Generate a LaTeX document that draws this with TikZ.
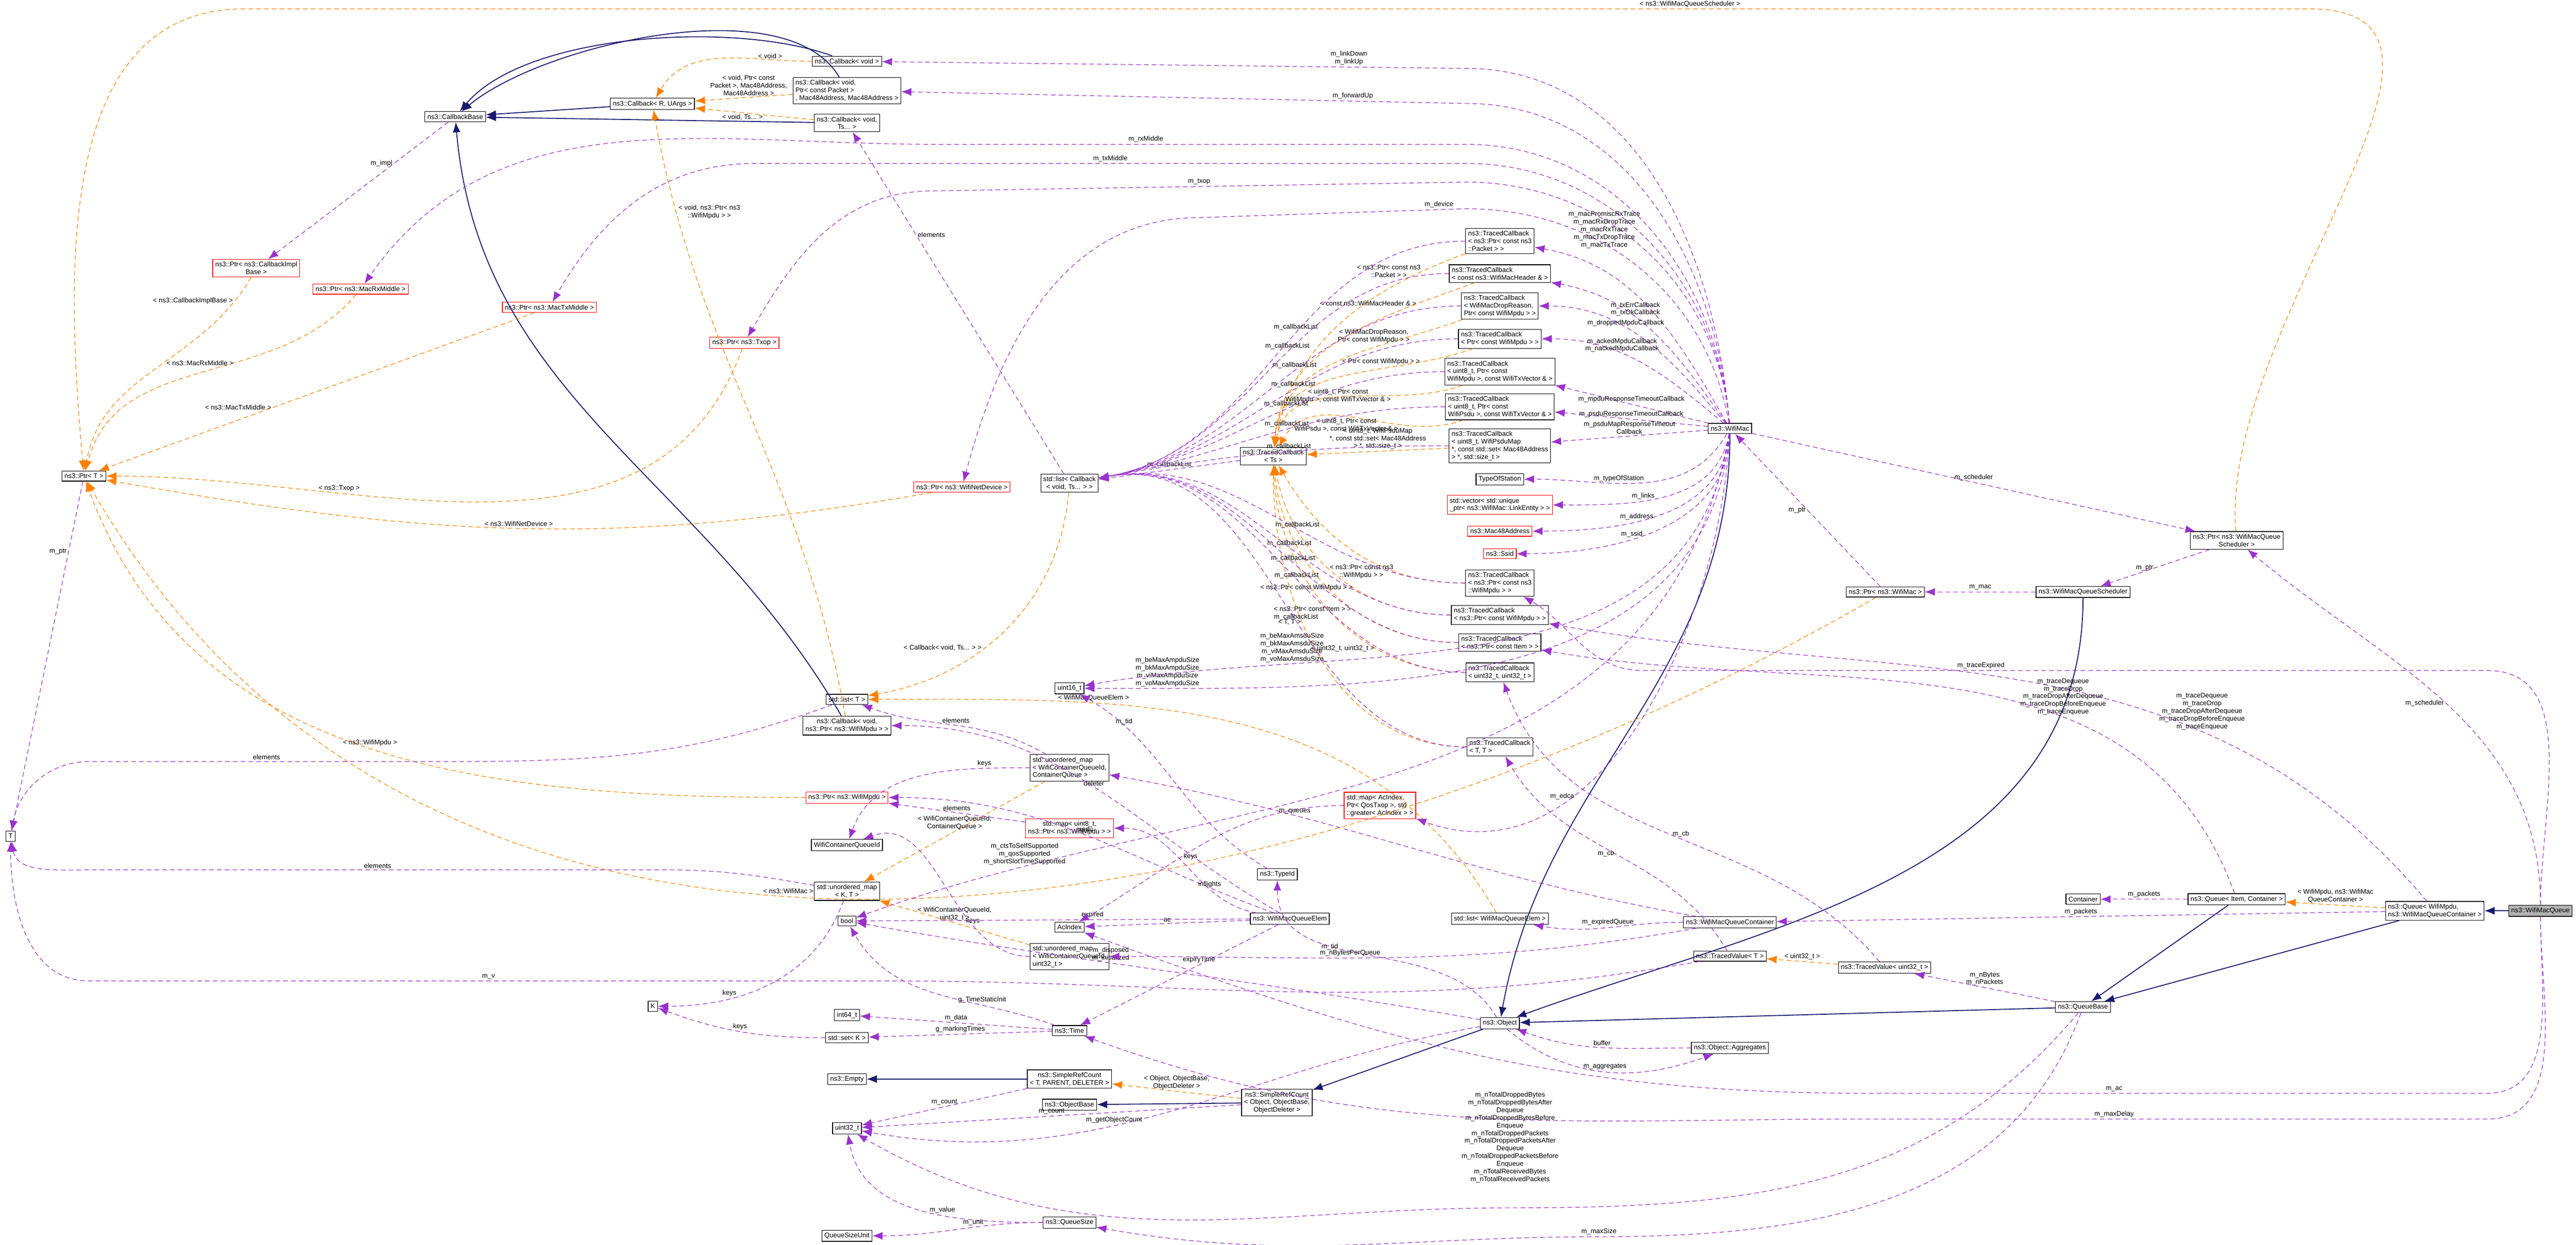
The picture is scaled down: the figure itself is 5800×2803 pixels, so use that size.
\documentclass[tikz,border=0pt]{standalone}
\usepackage{fontspec}
\setmainfont{Liberation Sans}
\usetikzlibrary{arrows.meta}
\usetikzlibrary{calc}

\tikzset{
  cls/.style={draw, line width=0.16pt, fill=white, font=\fontsize{1.72}{1.96}\selectfont, align=center, inner sep=0.64pt, minimum height=2.6pt},
  redcls/.style={cls, draw=red},
  inh/.style={draw={rgb,255:red,25;green,25;blue,112}, line width=0.24pt, -{Latex[length=2.6pt,width=2pt]}},
  use/.style={draw={rgb,255:red,153;green,50;blue,204}, line width=0.16pt, dash pattern=on 1.2pt off 0.8pt, -{Latex[length=2.6pt,width=2pt]}},
  tmpl/.style={draw=orange, line width=0.16pt, dash pattern=on 1.2pt off 0.8pt, -{Latex[length=2.6pt,width=2pt]}},
  lbl/.style={font=\fontsize{1.72}{1.96}\selectfont, align=center, inner sep=0.4pt}
}

\begin{document}
\begin{tikzpicture}[x=0.004cm, y=-0.004cm]
	\useasboundingbox (0,0) rectangle (5800,2803);

	% Callbacks
	\node[cls] (cbbase) at (1025,263) {ns3::CallbackBase};
	\node[cls] (cbvoid) at (1907,138) {ns3::Callback\textless{} void \textgreater};
	\node[cls, align=left] (cbpkt) at (1907,204) {ns3::Callback\textless{} void,\\ Ptr\textless{} const Packet \textgreater\\ , Mac48Address, Mac48Address \textgreater};
	\node[cls] (cbr) at (1469,234) {ns3::Callback\textless{} R, UArgs \textgreater};
	\node[cls] (cbts) at (1907,277) {ns3::Callback\textless{} void,\\ Ts... \textgreater};
	\node[cls] (cbmpdu) at (1907,1634) {ns3::Callback\textless{} void,\\ ns3::Ptr\textless{} ns3::WifiMpdu \textgreater{} \textgreater};

	% Pointers
	\node[redcls] (pimpl) at (577,604) {ns3::Ptr\textless{} ns3::CallbackImpl\\ Base \textgreater};
	\node[redcls] (prx) at (812,651) {ns3::Ptr\textless{} ns3::MacRxMiddle \textgreater};
	\node[redcls] (ptx) at (1237,692) {ns3::Ptr\textless{} ns3::MacTxMiddle \textgreater};
	\node[redcls] (ptxop) at (1676,772) {ns3::Ptr\textless{} ns3::Txop \textgreater};
	\node[cls] (ptrt) at (189,1072) {ns3::Ptr\textless{} T \textgreater};
	\node[redcls] (pdev) at (2166,1097) {ns3::Ptr\textless{} ns3::WifiNetDevice \textgreater};
	\node[redcls] (pmpdu) at (1907,1796) {ns3::Ptr\textless{} ns3::WifiMpdu \textgreater};
	\node[cls] (pmac) at (4245,1333) {ns3::Ptr\textless{} ns3::WifiMac \textgreater};
	\node[cls] (psched) at (5036,1217) {ns3::Ptr\textless{} ns3::WifiMacQueue\\ Scheduler \textgreater};

	% Containers and plain types
	\node[cls] (slist) at (2408,1088) {std::list\textless{} Callback\\ \textless{} void, Ts... \textgreater{} \textgreater};
	\node[cls] (listt) at (1907,1575) {std::list\textless{} T \textgreater};
	\node[cls] (u16) at (2408,1550) {uint16\_t};
	\node[cls, align=left] (umapcq) at (2408,1729) {std::unordered\_map\\ \textless{} WifiContainerQueueId,\\ ContainerQueue \textgreater};
	\node[redcls] (mapinfl) at (2408,1865) {std::map\textless{} uint8\_t,\\ ns3::Ptr\textless{} ns3::WifiMpdu \textgreater{} \textgreater};
	\node[cls] (cqid) at (1907,1903) {WifiContainerQueueId};
	\node[cls] (tt) at (24,1883) {T};
	\node[cls] (umapkt) at (1907,2007) {std::unordered\_map\\ \textless{} K, T \textgreater};
	\node[cls] (bool) at (1907,2074) {bool};
	\node[cls] (acidx) at (2408,2088) {AcIndex};
	\node[cls, align=left] (umapu32) at (2408,2154) {std::unordered\_map\\ \textless{} WifiContainerQueueId,\\ uint32\_t \textgreater};
	\node[cls] (kk) at (1470,2266) {K};
	\node[cls] (i64) at (1907,2286) {int64\_t};
	\node[cls] (time) at (2408,2321) {ns3::Time};
	\node[cls] (setk) at (1907,2337) {std::set\textless{} K \textgreater};
	\node[cls] (empty) at (1907,2430) {ns3::Empty};
	\node[cls] (srct) at (2408,2430) {ns3::SimpleRefCount\\ \textless{} T, PARENT, DELETER \textgreater};
	\node[cls] (objbase) at (2408,2488) {ns3::ObjectBase};
	\node[cls] (u32) at (1907,2541) {uint32\_t};
	\node[cls] (qsize) at (2408,2753) {ns3::QueueSize};
	\node[cls] (qsunit) at (1907,2783) {QueueSizeUnit};
	\node[cls] (typeid) at (2876,1969) {ns3::TypeId};
	\node[cls] (elem) at (2904,2069) {ns3::WifiMacQueueElem};
	\node[cls] (srcobj) at (2875,2483) {ns3::SimpleRefCount\\ \textless{} Object, ObjectBase,\\ ObjectDeleter \textgreater};

	% Traced callbacks
	\node[cls] (tcts) at (2867,1027) {ns3::TracedCallback\\ \textless{} Ts \textgreater};
	\node[cls, align=left] (tcpkt) at (3377,543) {ns3::TracedCallback\\ \textless{} ns3::Ptr\textless{} const ns3\\ ::Packet \textgreater{} \textgreater};
	\node[cls, align=left] (tchdr) at (3377,616) {ns3::TracedCallback\\ \textless{} const ns3::WifiMacHeader \& \textgreater};
	\node[cls, align=left] (tcdrop) at (3377,689) {ns3::TracedCallback\\ \textless{} WifiMacDropReason,\\ Ptr\textless{} const WifiMpdu \textgreater{} \textgreater};
	\node[cls, align=left] (tcmpdu) at (3377,763) {ns3::TracedCallback\\ \textless{} Ptr\textless{} const WifiMpdu \textgreater{} \textgreater};
	\node[cls, align=left] (tcmto) at (3377,837) {ns3::TracedCallback\\ \textless{} uint8\_t, Ptr\textless{} const\\ WifiMpdu \textgreater, const WifiTxVector \& \textgreater};
	\node[cls, align=left] (tcpto) at (3377,916) {ns3::TracedCallback\\ \textless{} uint8\_t, Ptr\textless{} const\\ WifiPsdu \textgreater, const WifiTxVector \& \textgreater};
	\node[cls, align=left] (tcmap) at (3377,1004) {ns3::TracedCallback\\ \textless{} uint8\_t, WifiPsduMap\\ *, const std::set\textless{} Mac48Address\\ \textgreater{} *, std::size\_t \textgreater};
	\node[cls] (tos) at (3377,1079) {TypeOfStation};
	\node[redcls, align=left] (links) at (3377,1137) {std::vector\textless{} std::unique\\ \_ptr\textless{} ns3::WifiMac::LinkEntity \textgreater{} \textgreater};
	\node[redcls] (mac48) at (3377,1196) {ns3::Mac48Address};
	\node[redcls] (ssid) at (3377,1247) {ns3::Ssid};
	\node[cls, align=left] (tcexp) at (3377,1313) {ns3::TracedCallback\\ \textless{} ns3::Ptr\textless{} const ns3\\ ::WifiMpdu \textgreater{} \textgreater};
	\node[cls, align=left] (tcqmpdu) at (3377,1385) {ns3::TracedCallback\\ \textless{} ns3::Ptr\textless{} const WifiMpdu \textgreater{} \textgreater};
	\node[cls, align=left] (tcitem) at (3377,1447) {ns3::TracedCallback\\ \textless{} ns3::Ptr\textless{} const Item \textgreater{} \textgreater};
	\node[cls, align=left] (tcu32) at (3377,1514) {ns3::TracedCallback\\ \textless{} uint32\_t, uint32\_t \textgreater};
	\node[cls, align=left] (tctt) at (3377,1682) {ns3::TracedCallback\\ \textless{} T, T \textgreater};
	\node[redcls, align=left] (edca) at (3107,1814) {std::map\textless{} AcIndex,\\ Ptr\textless{} QosTxop \textgreater, std\\ ::greater\textless{} AcIndex \textgreater{} \textgreater};
	\node[cls] (lelem) at (3377,2069) {std::list\textless{} WifiMacQueueElem \textgreater};

	% Mac and queue classes
	\node[cls] (mac) at (3895,965) {ns3::WifiMac};
	\node[cls] (sched) at (4690,1333) {ns3::WifiMacQueueScheduler};
	\node[cls] (cont) at (3895,2077) {ns3::WifiMacQueueContainer};
	\node[cls] (tvt) at (3895,2153) {ns3::TracedValue\textless{} T \textgreater};
	\node[cls] (tvu32) at (4243,2179) {ns3::TracedValue\textless{} uint32\_t \textgreater};
	\node[cls] (container) at (4690,2025) {Container};
	\node[cls] (qic) at (5036,2025) {ns3::Queue\textless{} Item, Container \textgreater};
	\node[cls, align=left] (qmpdu) at (5482,2051) {ns3::Queue\textless{} WifiMpdu,\\ ns3::WifiMacQueueContainer \textgreater};
	\node[cls, fill=gray!60] (queue) at (5720,2051) {ns3::WifiMacQueue};
	\node[cls] (qbase) at (4690,2268) {ns3::QueueBase};
	\node[cls] (obj) at (3377,2304) {ns3::Object};
	\node[cls] (aggr) at (3895,2360) {ns3::Object::Aggregates};

	% Inheritance
	\draw[inh] (cbvoid) to[out=160,in=50, looseness=0.7] (cbbase);
	\draw[inh] (cbpkt) to[out=120,in=40, looseness=0.7] (cbbase);
	\draw[inh] (cbr) -- (cbbase);
	\draw[inh] (cbts) -- (cbbase);
	\draw[inh] (cbmpdu) to[out=120,in=-85] (cbbase);
	\draw[inh] (mac) to[out=-90,in=80] (obj);
	\draw[inh] (sched) to[out=-90,in=20] (obj);
	\draw[inh] (qbase) -- (obj);
	\draw[inh] (qic) -- (qbase);
	\draw[inh] (qmpdu) -- (qbase);
	\draw[inh] (queue) -- (qmpdu);
	\draw[inh] (obj) -- (srcobj);
	\draw[inh] (srcobj) -- (objbase);
	\draw[inh] (srct) -- (empty);

	% Template instances
	\draw[tmpl] (cbvoid) to[out=180,in=60] node[lbl, above left, pos=0.15] {\textless{} void \textgreater} (cbr);
	\draw[tmpl] (cbpkt) -- node[lbl, above, pos=0.45] {\textless{} void, Ptr\textless{} const\\ Packet \textgreater, Mac48Address,\\ Mac48Address \textgreater} (cbr);
	\draw[tmpl] (cbts) -- node[lbl, below, pos=0.6] {\textless{} void, Ts... \textgreater} (cbr);
	\draw[tmpl] (cbmpdu) to[out=100,in=-80] node[lbl, pos=0.85, right] {\textless{} void, ns3::Ptr\textless{} ns3\\ ::WifiMpdu \textgreater{} \textgreater} (cbr);
	\draw[tmpl] (pimpl) to[out=-120,in=80] node[lbl, pos=0.1, left] {\textless{} ns3::CallbackImplBase \textgreater} (ptrt);
	\draw[tmpl] (prx) to[out=-130,in=75] node[lbl, pos=0.4, left] {\textless{} ns3::MacRxMiddle \textgreater} (ptrt);
	\draw[tmpl] (ptx) -- node[lbl, pos=0.6, left] {\textless{} ns3::MacTxMiddle \textgreater} (ptrt);
	\draw[tmpl] (ptxop) to[out=-110,in=0] node[lbl, pos=0.7, above] {\textless{} ns3::Txop \textgreater} (ptrt);
	\draw[tmpl] (pdev) to[out=190,in=-10] node[lbl, above] {\textless{} ns3::WifiNetDevice \textgreater} (ptrt);
	\draw[tmpl] (pmac) to[out=-150,in=-60] node[lbl, pos=0.55, above] {\textless{} ns3::WifiMac \textgreater} (ptrt);
	\draw[tmpl] (pmpdu) to[out=180,in=-70] node[lbl, pos=0.5, above] {\textless{} ns3::WifiMpdu \textgreater} (ptrt);
	\draw[tmpl] (psched) to[out=95,in=0] (5200,20) -- node[lbl, above, pos=0.3] {\textless{} ns3::WifiMacQueueScheduler \textgreater} (550,20) to[out=180,in=95] (ptrt);
	\draw[tmpl] (slist) to[out=-95,in=10] node[lbl, pos=0.6, left] {\textless{} Callback\textless{} void, Ts... \textgreater{} \textgreater} (listt);
	\draw[tmpl] (lelem) to[out=120,in=0] node[lbl, pos=0.7, above] {\textless{} WifiMacQueueElem \textgreater} (listt);
	\draw[tmpl] (umapcq) -- node[lbl, above] {\textless{} WifiContainerQueueId,\\ ContainerQueue \textgreater} (umapkt);
	\draw[tmpl] (umapu32) -- node[lbl, above] {\textless{} WifiContainerQueueId,\\ uint32\_t \textgreater} (umapkt);
	\draw[tmpl] (tvu32) -- node[lbl, above] {\textless{} uint32\_t \textgreater} (tvt);
	\draw[tmpl] (qmpdu) -- node[lbl, above] {\textless{} WifiMpdu, ns3::WifiMac\\ QueueContainer \textgreater} (qic);
	\draw[tmpl] (srcobj) -- node[lbl, above] {\textless{} Object, ObjectBase,\\ ObjectDeleter \textgreater} (srct);
	\draw[tmpl] (tcpkt) to[out=200,in=80] node[lbl, pos=0.15, left] {\textless{} ns3::Ptr\textless{} const ns3\\ ::Packet \textgreater{} \textgreater} (tcts);
	\draw[tmpl] (tchdr) to[out=200,in=85] node[lbl, pos=0.2, left] {\textless{} const ns3::WifiMacHeader \& \textgreater} (tcts);
	\draw[tmpl] (tcdrop) to[out=200,in=85] node[lbl, pos=0.2, left] {\textless{} WifiMacDropReason,\\ Ptr\textless{} const WifiMpdu \textgreater{} \textgreater} (tcts);
	\draw[tmpl] (tcmpdu) to[out=200,in=85] node[lbl, pos=0.2, left] {\textless{} Ptr\textless{} const WifiMpdu \textgreater{} \textgreater} (tcts);
	\draw[tmpl] (tcmto) to[out=200,in=80] node[lbl, pos=0.3, left] {\textless{} uint8\_t, Ptr\textless{} const\\ WifiMpdu \textgreater, const WifiTxVector \& \textgreater} (tcts);
	\draw[tmpl] (tcpto) to[out=200,in=60] node[lbl, pos=0.3, left] {\textless{} uint8\_t, Ptr\textless{} const\\ WifiPsdu \textgreater, const WifiTxVector \& \textgreater} (tcts);
	\draw[tmpl] (tcmap) -- node[lbl, above] {\textless{} uint8\_t, WifiPsduMap\\ *, const std::set\textless{} Mac48Address\\ \textgreater{} *, std::size\_t \textgreater} (tcts);
	\draw[tmpl] (tcexp) to[out=180,in=-60] node[lbl, pos=0.3, left] {\textless{} ns3::Ptr\textless{} const ns3\\ ::WifiMpdu \textgreater{} \textgreater} (tcts);
	\draw[tmpl] (tcqmpdu) to[out=180,in=-80] node[lbl, pos=0.4, left] {\textless{} ns3::Ptr\textless{} const WifiMpdu \textgreater{} \textgreater} (tcts);
	\draw[tmpl] (tcitem) to[out=180,in=-85] node[lbl, pos=0.4, left] {\textless{} ns3::Ptr\textless{} const Item \textgreater{} \textgreater} (tcts);
	\draw[tmpl] (tcu32) to[out=180,in=-88] node[lbl, pos=0.3, left] {\textless{} uint32\_t, uint32\_t \textgreater} (tcts);
	\draw[tmpl] (tctt) to[out=180,in=-90] node[lbl, pos=0.6, left] {\textless{} T, T \textgreater} (tcts);

	% Members of WifiMac
	\draw[use] (mac) to[out=95,in=0] (3300,154) -- node[lbl, above, pos=0.2] {m\_linkDown\\ m\_linkUp} (cbvoid);
	\draw[use] (mac) to[out=95,in=0] (3300,233) -- node[lbl, above, pos=0.2] {m\_forwardUp} (cbpkt);
	\draw[use] (mac) to[out=95,in=0] (3300,325) -- node[lbl, above, pos=0.6] {m\_rxMiddle} (2100,325) to[out=180,in=55] (prx);
	\draw[use] (mac) to[out=95,in=0] (3300,368) -- node[lbl, above, pos=0.5] {m\_txMiddle} (1700,368) to[out=180,in=60] (ptx);
	\draw[use] (mac) to[out=95,in=0] (3300,410) -- node[lbl, above, pos=0.5] {m\_txop} (2100,430) to[out=180,in=60] (ptxop);
	\draw[use] (mac) to[out=100,in=0] (3300,470) -- node[lbl, above, pos=0.1] {m\_device} (2700,490) to[out=180,in=75] (pdev);
	\draw[use] (mac) to[out=120,in=-10] node[lbl, pos=0.9, above right=1pt] {m\_macPromiscRxTrace\\ m\_macRxDropTrace\\ m\_macRxTrace\\ m\_macTxDropTrace\\ m\_macTxTrace} (tcpkt);
	\draw[use] (mac) to[out=125,in=-10] node[lbl, pos=0.6, above] {m\_txErrCallback\\ m\_txOkCallback} (tchdr);
	\draw[use] (mac) to[out=130,in=0] node[lbl, pos=0.6, above] {m\_droppedMpduCallback} (tcdrop);
	\draw[use] (mac) to[out=140,in=0] node[lbl, pos=0.6, above] {m\_ackedMpduCallback\\ m\_nackedMpduCallback} (tcmpdu);
	\draw[use] (mac) -- node[lbl, pos=0.5, above] {m\_mpduResponseTimeoutCallback} (tcmto);
	\draw[use] (mac) -- node[lbl, pos=0.5, above] {m\_psduResponseTimeoutCallback} (tcpto);
	\draw[use] (mac) -- node[lbl, pos=0.5, above] {m\_psduMapResponseTimeout\\ Callback} (tcmap);
	\draw[use] (mac) to[out=-120,in=0] node[lbl, pos=0.6, above] {m\_typeOfStation} (tos);
	\draw[use] (mac) to[out=-100,in=0] node[lbl, pos=0.6, above] {m\_links} (links);
	\draw[use] (mac) to[out=-95,in=0] node[lbl, pos=0.6, above] {m\_address} (mac48);
	\draw[use] (mac) to[out=-92,in=0] node[lbl, pos=0.6, above] {m\_ssid} (ssid);
	\draw[use] (mac) to[out=-95,in=0] node[lbl, pos=0.9, above] {m\_beMaxAmpduSize\\ m\_bkMaxAmpduSize\\ m\_viMaxAmpduSize\\ m\_voMaxAmpduSize} (u16);
	\draw[use] (mac) to[out=-98,in=10] node[lbl, pos=0.75, above] {m\_beMaxAmsduSize\\ m\_bkMaxAmsduSize\\ m\_viMaxAmsduSize\\ m\_voMaxAmsduSize} (u16);
	\draw[use] (mac) to[out=-100,in=20] node[lbl, pos=0.85, above] {m\_ctsToSelfSupported\\ m\_qosSupported\\ m\_shortSlotTimeSupported} (bool);
	\draw[use] (mac) to[out=-93,in=-20] node[lbl, pos=0.7, above] {m\_edca} (edca);
	\draw[use] (mac) -- node[lbl, pos=0.5, above] {m\_scheduler} (psched);

	% Callback lists
	\draw[use] (cbbase) -- node[lbl, pos=0.3, left] {m\_impl} (pimpl);
	\draw[use] (slist) -- node[lbl, pos=0.7, right] {elements} (cbts);
	\draw[use] (tcts) -- node[lbl, above] {m\_callbackList} (slist);
	\foreach \tc in {tcpkt,tchdr,tcdrop,tcmpdu,tcmto,tcpto,tcmap,tcexp,tcqmpdu,tcitem,tcu32,tctt}
		\draw[use] (\tc) to[out=180,in=10] node[lbl, pos=0.45, above] {m\_callbackList} (slist);

	% Generic templates
	\draw[use] (ptrt) -- node[lbl, pos=0.2, left] {m\_ptr} (tt);
	\draw[use] (listt) to[out=200,in=0] (1000,1715) -- node[lbl, above] {elements} (200,1715) to[out=180,in=80] (tt);
	\draw[use] (umapkt) to[out=170,in=0] (1500,1959) -- node[lbl, above] {elements} (200,1959) to[out=180,in=-80] (tt);
	\draw[use] (umapkt) to[out=-110,in=0] node[lbl, pos=0.7, above] {keys} (kk);
	\draw[use] (setk) to[out=180,in=-20] node[lbl, pos=0.5, above] {keys} (kk);
	\draw[use] (tvt) to[out=190,in=0] (2000,2209) -- node[lbl, above] {m\_v} (200,2209) to[out=180,in=-90] (tt);

	% Queue element
	\draw[use] (umapcq) to[out=150,in=-20] node[lbl, pos=0.5, above] {elements} (listt);
	\draw[use] (umapcq) to[out=180,in=70] node[lbl, pos=0.2, above] {keys} (cqid);
	\draw[use] (umapu32) to[out=180,in=20] node[lbl, pos=0.3, above] {keys} (cqid);
	\draw[use] (mapinfl) -- node[lbl, pos=0.5, above] {elements} (pmpdu);
	\draw[use] (elem) to[out=150,in=0] node[lbl, pos=0.5, above] {deleter} (cbmpdu);
	\draw[use] (elem) to[out=160,in=0] node[lbl, pos=0.5, above] {mpdu} (pmpdu);
	\draw[use] (elem) to[out=170,in=0] node[lbl, pos=0.3, above] {inflights} (mapinfl);
	\draw[use] (elem) -- node[lbl, pos=0.4, above] {expired} (bool);
	\draw[use] (elem) -- node[lbl, pos=0.5, above] {ac} (acidx);
	\draw[use] (elem) -- node[lbl, pos=0.4, above] {expiryTime} (time);
	\draw[use] (edca) to[out=180,in=30] node[lbl, pos=0.6, right] {keys} (acidx);
	\draw[use] (typeid) to[out=150,in=-30] node[lbl, pos=0.8, above] {m\_tid} (u16);

	% Time, counters
	\draw[use] (time) -- node[lbl, above] {m\_data} (i64);
	\draw[use] (time) -- node[lbl, above] {g\_markingTimes} (setk);
	\draw[use] (time) to[out=160,in=-60] node[lbl, pos=0.3, above] {g\_TimeStaticInit} (bool);
	\draw[use] (srct) -- node[lbl, above] {m\_count} (u32);
	\draw[use] (srcobj) -- node[lbl, above] {m\_count} (u32);
	\draw[use] (obj) to[out=190,in=-10] node[lbl, pos=0.6, above] {m\_getObjectCount} (u32);
	\draw[use] (qsize) to[out=180,in=-80] node[lbl, pos=0.4, above] {m\_value} (u32);
	\draw[use] (qsize) to[out=180,in=0] node[lbl, pos=0.4, above] {m\_unit} (qsunit);

	% Object
	\draw[use] (obj) to[out=170,in=-10] node[lbl, pos=0.6, above] {m\_disposed\\ m\_initialized} (bool);
	\draw[use] (obj) to[out=120,in=-90] node[lbl, pos=0.6, left] {m\_tid} (typeid);
	\draw[use] (obj) to[out=-40,in=200] node[lbl, pos=0.5, above] {m\_aggregates} (aggr);
	\draw[use] (aggr) to[out=180,in=-20] node[lbl, pos=0.5, above] {buffer} (obj);

	% Queue and its container
	\draw[use] (cont) to[out=180,in=-10] node[lbl, pos=0.5, above] {m\_expiredQueue} (lelem);
	\draw[use] (cont) to[out=170,in=-10] node[lbl, pos=0.7, above] {m\_queues} (umapcq);
	\draw[use] (cont) to[out=190,in=0] node[lbl, pos=0.6, above] {m\_nBytesPerQueue} (umapu32);
	\draw[use] (qmpdu) -- node[lbl, above] {m\_packets} (cont);
	\draw[use] (qic) -- node[lbl, above] {m\_packets} (container);
	\draw[use] (qmpdu) to[out=130,in=-10] node[lbl, pos=0.3, above] {m\_traceDequeue\\ m\_traceDrop\\ m\_traceDropAfterDequeue\\ m\_traceDropBeforeEnqueue\\ m\_traceEnqueue} (tcqmpdu);
	\draw[use] (qic) to[out=110,in=-10] node[lbl, pos=0.35, above] {m\_traceDequeue\\ m\_traceDrop\\ m\_traceDropAfterDequeue\\ m\_traceDropBeforeEnqueue\\ m\_traceEnqueue} (tcitem);
	\draw[use] (queue) to[out=90,in=0] (5600,1510) -- node[lbl, above, pos=0.6] {m\_traceExpired} (3700,1510) to[out=180,in=-30] (tcexp);
	\draw[use] (queue) to[out=90,in=-40] node[lbl, pos=0.5, left] {m\_scheduler} (psched);
	\draw[use] (queue) to[out=-90,in=0] (5600,2462) -- node[lbl, above, pos=0.6] {m\_ac} (4200,2462) to[out=180,in=-20] (acidx);
	\draw[use] (queue) to[out=-90,in=0] (5600,2520) -- node[lbl, above, pos=0.6] {m\_maxDelay} (4200,2520) to[out=180,in=-20] (time);
	\draw[use] (psched) -- node[lbl, pos=0.5, left] {m\_ptr} (sched);
	\draw[use] (sched) -- node[lbl, above] {m\_mac} (pmac);
	\draw[use] (pmac) -- node[lbl, pos=0.5, left] {m\_ptr} (mac);
	\draw[use] (qbase) -- node[lbl, pos=0.5, above] {m\_nBytes\\ m\_nPackets} (tvu32);
	\draw[use] (qbase) to[out=-130,in=0] (3400,2720) node[lbl, above=6pt] {m\_nTotalDroppedBytes\\ m\_nTotalDroppedBytesAfter\\ Dequeue\\ m\_nTotalDroppedBytesBefore\\ Enqueue\\ m\_nTotalDroppedPackets\\ m\_nTotalDroppedPacketsAfter\\ Dequeue\\ m\_nTotalDroppedPacketsBefore\\ Enqueue\\ m\_nTotalReceivedBytes\\ m\_nTotalReceivedPackets} to[out=180,in=-30] (u32);
	\draw[use] (qbase) to[out=-110,in=0] (3600,2785) node[lbl, above] {m\_maxSize} to[out=180,in=-10] (qsize);
	\draw[use] (tvt) to[out=120,in=-60] node[lbl, pos=0.5, left] {m\_cb} (tctt);
	\draw[use] (tvu32) to[out=130,in=-70] node[lbl, pos=0.5, right] {m\_cb} (tcu32);
\end{tikzpicture}
\end{document}
